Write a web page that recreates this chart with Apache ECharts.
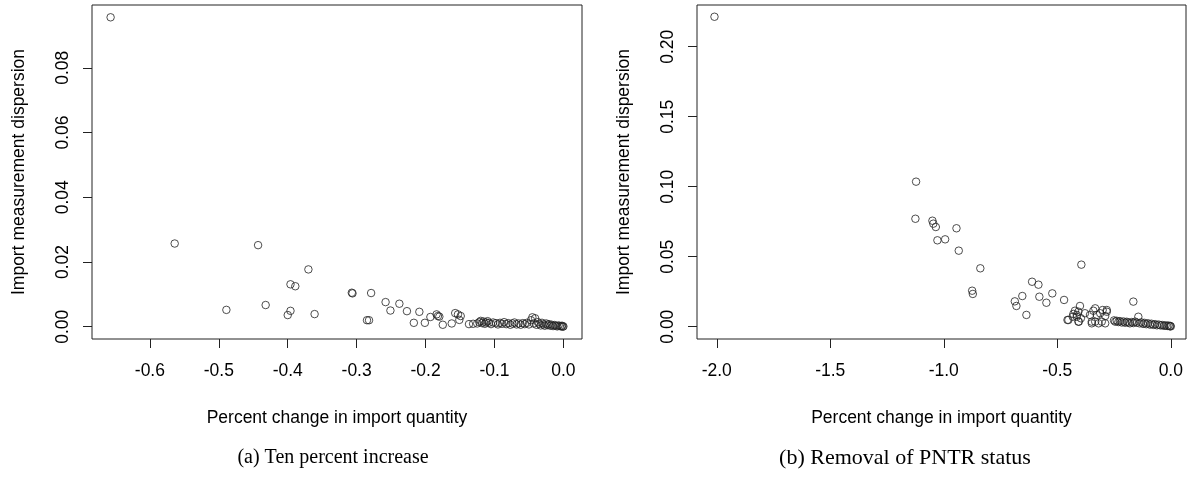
<!DOCTYPE html>
<html>
<head>
<meta charset="utf-8">
<script src="https://cdn.jsdelivr.net/npm/echarts@6/dist/echarts.min.js"></script>
<style>
  html, body { margin: 0; padding: 0; background: #fff; }
  #chart { width: 1190px; height: 481px; }
</style>
</head>
<body>
<div id="chart"></div>
<script>
// (a) ten percent increase: [percent change in import quantity, dispersion]
var tenPercent = [
    [-0.657, 0.0956], [-0.564, 0.0257], [-0.443, 0.0252], [-0.489, 0.0052],
    [-0.432, 0.0067], [-0.396, 0.0131], [-0.389, 0.0125], [-0.400, 0.0036],
    [-0.396, 0.0049], [-0.370, 0.0177], [-0.361, 0.0039], [-0.307, 0.0105],
    [-0.306, 0.0103], [-0.279, 0.0104], [-0.285, 0.0020], [-0.282, 0.0020],
    [-0.258, 0.0076], [-0.251, 0.0050], [-0.238, 0.0071], [-0.227, 0.0048],
    [-0.217, 0.0012], [-0.209, 0.0046], [-0.201, 0.0012], [-0.193, 0.0030],
    [-0.184, 0.0038], [-0.182, 0.0033], [-0.180, 0.0031], [-0.175, 0.0006],
    [-0.162, 0.0010], [-0.157, 0.0042], [-0.153, 0.0038], [-0.149, 0.0033],
    [-0.151, 0.0021], [-0.137, 0.0008], [-0.131, 0.0009], [-0.125, 0.0010],
    [-0.122, 0.0014], [-0.120, 0.0018], [-0.118, 0.0011], [-0.116, 0.0016],
    [-0.114, 0.0009], [-0.112, 0.0013], [-0.110, 0.0017], [-0.108, 0.0012],
    [-0.105, 0.0008], [-0.102, 0.0013], [-0.098, 0.0011], [-0.095, 0.0007],
    [-0.092, 0.0012], [-0.089, 0.0009], [-0.086, 0.0014], [-0.083, 0.0008],
    [-0.080, 0.0011], [-0.077, 0.0006], [-0.074, 0.0010], [-0.071, 0.0013],
    [-0.068, 0.0007], [-0.065, 0.0010], [-0.062, 0.0006], [-0.059, 0.0011],
    [-0.056, 0.0008], [-0.053, 0.0012], [-0.050, 0.0007], [-0.047, 0.0020],
    [-0.045, 0.0029], [-0.043, 0.0010], [-0.041, 0.0026], [-0.039, 0.0006],
    [-0.037, 0.0014], [-0.035, 0.0009], [-0.033, 0.0004], [-0.031, 0.0012],
    [-0.029, 0.0007], [-0.027, 0.0003], [-0.025, 0.0010], [-0.023, 0.0005],
    [-0.021, 0.0008], [-0.019, 0.0003], [-0.017, 0.0006], [-0.015, 0.0002],
    [-0.013, 0.0005], [-0.011, 0.0003], [-0.009, 0.0001], [-0.007, 0.0004],
    [-0.005, 0.0002], [-0.003, 0.0001], [-0.002, 0.0003], [-0.001, 0.0000],
    [0.000, 0.0001]
];

// (b) removal of PNTR status
var pntrRemoval = [
    [-2.010, 0.2214], [-1.122, 0.1036], [-1.125, 0.0771], [-1.050, 0.0757],
    [-1.046, 0.0736], [-1.035, 0.0712], [-1.028, 0.0617], [-0.994, 0.0624],
    [-0.944, 0.0703], [-0.934, 0.0543], [-0.839, 0.0417], [-0.875, 0.0257],
    [-0.872, 0.0234], [-0.611, 0.0321], [-0.583, 0.0300], [-0.654, 0.0219],
    [-0.687, 0.0181], [-0.680, 0.0148], [-0.636, 0.0084], [-0.579, 0.0214],
    [-0.548, 0.0171], [-0.522, 0.0238], [-0.470, 0.0191], [-0.394, 0.0443],
    [-0.165, 0.0179],
    [-0.422, 0.0114], [-0.400, 0.0148], [-0.414, 0.0084], [-0.429, 0.0091],
    [-0.396, 0.0060], [-0.451, 0.0048], [-0.407, 0.0036], [-0.378, 0.0096],
    [-0.356, 0.0084], [-0.341, 0.0114], [-0.333, 0.0131], [-0.326, 0.0084],
    [-0.311, 0.0096], [-0.300, 0.0119], [-0.289, 0.0076], [-0.304, 0.0036],
    [-0.333, 0.0036], [-0.348, 0.0036], [-0.282, 0.0107], [-0.407, 0.0107],
    [-0.414, 0.0071], [-0.405, 0.0036], [-0.282, 0.0119], [-0.289, 0.0024],
    [-0.318, 0.0024], [-0.348, 0.0024], [-0.455, 0.0048], [-0.432, 0.0071],
    [-0.250, 0.0045], [-0.245, 0.0036], [-0.238, 0.0042], [-0.231, 0.0033],
    [-0.224, 0.0040], [-0.216, 0.0030], [-0.208, 0.0037], [-0.201, 0.0028],
    [-0.194, 0.0035], [-0.187, 0.0030], [-0.180, 0.0024], [-0.172, 0.0033],
    [-0.165, 0.0026], [-0.157, 0.0036], [-0.150, 0.0029], [-0.143, 0.0071],
    [-0.138, 0.0024], [-0.130, 0.0031], [-0.122, 0.0020], [-0.115, 0.0027],
    [-0.108, 0.0018], [-0.100, 0.0024], [-0.092, 0.0015], [-0.085, 0.0021],
    [-0.077, 0.0013], [-0.069, 0.0018], [-0.061, 0.0010], [-0.053, 0.0015],
    [-0.045, 0.0009], [-0.038, 0.0012], [-0.030, 0.0006], [-0.023, 0.0010],
    [-0.016, 0.0005], [-0.010, 0.0008], [-0.005, 0.0003], [-0.002, 0.0005],
    [0.000, 0.0002]
];

var xTicksA = [-0.6, -0.5, -0.4, -0.3, -0.2, -0.1, 0.0];
var yTicksA = [0.00, 0.02, 0.04, 0.06, 0.08];
var xTicksB = [-2.0, -1.5, -1.0, -0.5, 0.0];
var yTicksB = [0.00, 0.05, 0.10, 0.15, 0.20];

var xTitle = 'Percent change in import quantity';
var yTitle = 'Import measurement dispersion';

var font = 'Liberation Sans, Arial, sans-serif';
var ink = '#222';

function xAxisFor(idx, min, max, ticks) {
    return {
        type: 'value', gridIndex: idx, min: min, max: max,
        name: xTitle, nameLocation: 'middle', nameGap: 70,
        nameTextStyle: { fontFamily: font, fontSize: 17.5, color: '#000' },
        axisLine: { show: false, onZero: false },
        splitLine: { show: false },
        axisTick: { show: true, length: 9, customValues: ticks,
            lineStyle: { color: ink, width: 1 } },
        axisLabel: { customValues: ticks, margin: 23, fontFamily: font,
            fontSize: 17.5, color: '#000',
            formatter: function (v) { return v.toFixed(1); } }
    };
}

function yAxisFor(idx, min, max, ticks) {
    return {
        type: 'value', gridIndex: idx, min: min, max: max,
        name: yTitle, nameLocation: 'middle', nameGap: 64,
        nameTextStyle: { fontFamily: font, fontSize: 17.5, color: '#000' },
        axisLine: { show: false, onZero: false },
        splitLine: { show: false },
        axisTick: { show: true, length: 9, customValues: ticks,
            lineStyle: { color: ink, width: 1 } },
        axisLabel: { customValues: ticks, margin: 20, rotate: 90,
            fontFamily: font, fontSize: 17.5, color: '#000',
            formatter: function (v) { return v.toFixed(2); } }
    };
}

function pointsFor(idx, data) {
    return {
        type: 'scatter', xAxisIndex: idx, yAxisIndex: idx,
        data: data, symbol: 'circle', symbolSize: 7.5,
        itemStyle: { color: 'rgba(0,0,0,0)', borderColor: ink, borderWidth: 1 },
        emphasis: { disabled: true }
    };
}

var myChart = echarts.init(document.getElementById('chart'));
var option = {
    animation: false,
    backgroundColor: '#fff',
    title: [
        { text: '(a) Ten percent increase', left: 333, top: 448, textAlign: 'center', padding: 0,
          textStyle: { fontFamily: 'Liberation Serif, serif', fontWeight: 'normal', fontSize: 20, color: '#000' } },
        { text: '(b) Removal of PNTR status', left: 905, top: 447, textAlign: 'center', padding: 0,
          textStyle: { fontFamily: 'Liberation Serif, serif', fontWeight: 'normal', fontSize: 22, color: '#000' } }
    ],
    grid: [
        { left: 92, top: 5, width: 490, height: 334, show: true, borderColor: ink, borderWidth: 1 },
        { left: 697, top: 5, width: 489, height: 334, show: true, borderColor: ink, borderWidth: 1 }
    ],
    xAxis: [
        xAxisFor(0, -0.684, 0.027, xTicksA),
        xAxisFor(1, -2.087, 0.067, xTicksB)
    ],
    yAxis: [
        yAxisFor(0, -0.0038, 0.0994, yTicksA),
        yAxisFor(1, -0.0088, 0.2298, yTicksB)
    ],
    series: [
        pointsFor(0, tenPercent),
        pointsFor(1, pntrRemoval)
    ]
};
myChart.setOption(option);
</script>
</body>
</html>
